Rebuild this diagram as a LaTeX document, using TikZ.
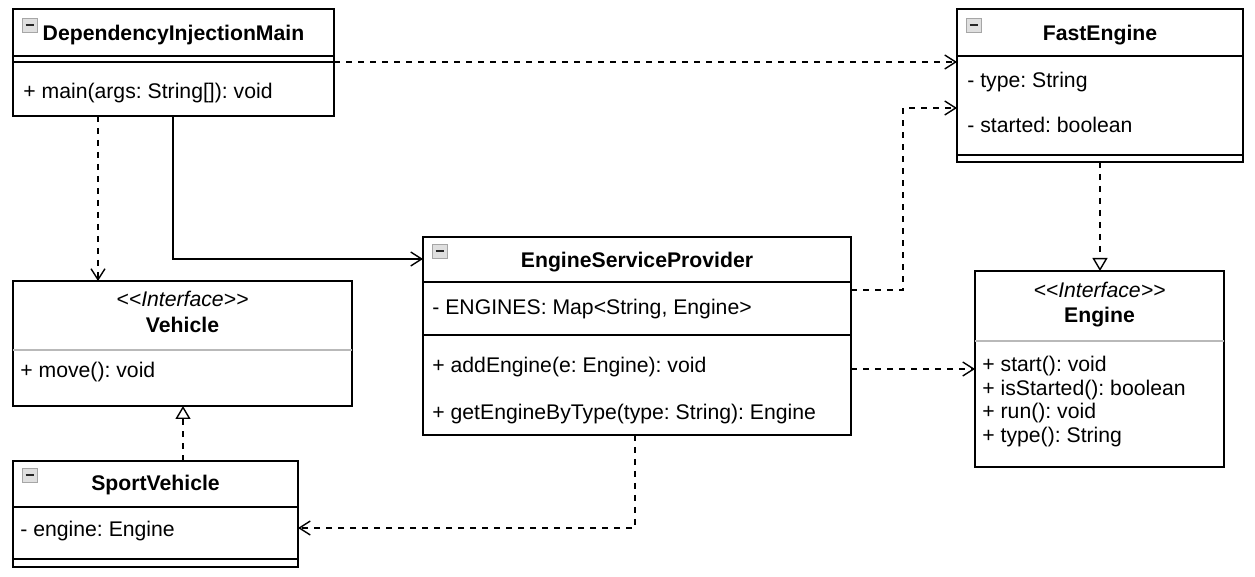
\documentclass[tikz,border=0pt]{standalone}
\usepackage{fontspec}
\setmainfont{Liberation Sans}
\usetikzlibrary{arrows.meta,fit,calc}
\frenchspacing
\begin{document}
\begin{tikzpicture}[x=0.5pt,y=-0.5pt,
  font=\fontsize{10.6}{12.7}\selectfont,
  box/.style={draw, line width=0.9pt, inner sep=0pt, outer sep=0pt},
  div/.style={line width=0.9pt},
  idiv/.style={line width=0.9pt, draw=gray!55},
  txt/.style={anchor=base west, inner sep=0pt},
  ttl/.style={anchor=base, inner sep=0pt, font=\fontsize{10.6}{12.7}\selectfont\bfseries},
  ster/.style={anchor=base, inner sep=0pt, font=\fontsize{10.6}{12.7}\selectfont\itshape},
  icon/.style={draw=gray!70, fill=gray!25, line width=0.5pt, anchor=north west, inner sep=0pt,
    minimum width=7.5pt, minimum height=7pt,
    path picture={\draw[line width=1pt, black!85]
      ([xshift=1.6pt]path picture bounding box.west) -- ([xshift=-1.6pt]path picture bounding box.east);}},
  conn/.style={line width=0.7pt, -{Straight Barb[length=5.5pt,width=7pt]}},
  dep/.style={conn, dash pattern=on 3pt off 3pt},
  real/.style={line width=0.7pt, dash pattern=on 3pt off 3pt, -{Triangle[open,length=6.5pt,width=7.5pt,fill=white]}}
]
\useasboundingbox (0,0) rectangle (1255,577);

% ---------- DependencyInjectionMain ----------
\node[box, fit={(13,9) (334,116)}] (dim) {};
\draw[div] (13,56) -- (334,56);
\draw[div] (13,62) -- (334,62);
\node[icon] (dimicon) at (22,18) {};
\node[ttl] (dimt) at (173.5,41) {DependencyInjectionMain};
\node[txt] (dimm1) at (23,99) {+ main(args: String[]): void};

% ---------- FastEngine ----------
\node[box, fit={(957,9) (1243,162)}] (fe) {};
\draw[div] (957,56) -- (1243,56);
\draw[div] (957,155) -- (1243,155);
\node[icon] (feicon) at (966,18) {};
\node[ttl] (fet) at (1100,41) {FastEngine};
\node[txt] (fea1) at (967,87.5) {- type: String};
\node[txt] (fea2) at (967,133) {- started: boolean};

% ---------- EngineServiceProvider ----------
\node[box, fit={(423,237) (851,435)}] (esp) {};
\draw[div] (423,282) -- (851,282);
\draw[div] (423,335) -- (851,335);
\node[icon] (espicon) at (432,244) {};
\node[ttl] (espt) at (637,268) {EngineServiceProvider};
\node[txt] (espa1) at (432,315) {- ENGINES: Map<String, Engine>};
\node[txt] (espm1) at (432,373) {+ addEngine(e: Engine): void};
\node[txt] (espm2) at (432,420) {+ getEngineByType(type: String): Engine};

% ---------- Vehicle ----------
\node[box, fit={(13,281) (352,406)}] (veh) {};
\draw[idiv] (13,350) -- (352,350);
\node[ster] (vehs) at (182.5,307) {<\kern0pt<Interface>\kern0pt>};
\node[ttl] (veht) at (182.5,332.5) {Vehicle};
\node[txt] (vehm1) at (20,378) {+ move(): void};

% ---------- SportVehicle ----------
\node[box, fit={(13,461) (298,567)}] (sv) {};
\draw[div] (13,507) -- (298,507);
\draw[div] (13,559) -- (298,559);
\node[icon] (svicon) at (22,468) {};
\node[ttl] (svt) at (155.5,491) {SportVehicle};
\node[txt] (sva1) at (20,537) {- engine: Engine};

% ---------- Engine ----------
\node[box, fit={(975,271) (1224,467)}] (eng) {};
\draw[idiv] (975,341) -- (1224,341);
\node[ster] (engs) at (1099.5,298) {<\kern0pt<Interface>\kern0pt>};
\node[ttl] (engt) at (1099.5,323) {Engine};
\node[txt] (engm1) at (982,372) {+ start(): void};
\node[txt] (engm2) at (982,395.5) {+ isStarted(): boolean};
\node[txt] (engm3) at (982,419) {+ run(): void};
\node[txt] (engm4) at (982,442.5) {+ type(): String};

% ---------- helper coordinates ----------
\coordinate (x98) at (98,0);
\coordinate (x173) at (173,0);
\coordinate (x183) at (183,0);
\coordinate (x635) at (635,0);
\coordinate (x903) at (903,0);
\coordinate (x1100) at (1100,0);
\coordinate (y62) at (0,62);
\coordinate (y108) at (0,108);
\coordinate (y259) at (0,259);
\coordinate (y290) at (0,290);
\coordinate (y369) at (0,369);
\coordinate (y528) at (0,528);

% ---------- connectors ----------
\draw[dep] (dim.east |- y62) -- (fe.west |- y62);
\draw[dep] (dim.south -| x98) -- (veh.north -| x98);
\draw[conn] (dim.south -| x173) |- (esp.west |- y259);
\draw[dep] (esp.east |- y290) -| (x903 |- y108) -- (fe.west |- y108);
\draw[dep] (esp.east |- y369) -- (eng.west |- y369);
\draw[dep] (esp.south -| x635) |- (sv.east |- y528);
\draw[real] (sv.north -| x183) -- (veh.south -| x183);
\draw[real] (fe.south -| x1100) -- (eng.north -| x1100);
\end{tikzpicture}
\end{document}
